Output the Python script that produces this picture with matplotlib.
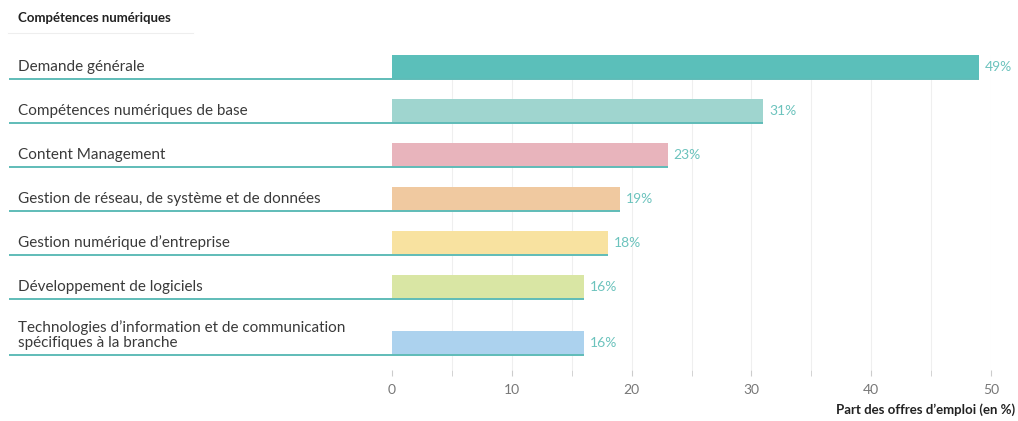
import matplotlib.pyplot as plt
import matplotlib.transforms as mtransforms

categories = [
    "Demande générale",
    "Compétences numériques de base",
    "Content Management",
    "Gestion de réseau, de système et de données",
    "Gestion numérique d’entreprise",
    "Développement de logiciels",
    "Technologies d’information et de communication\nspécifiques à la branche",
]
values = [49, 31, 23, 19, 18, 16, 16]
value_labels = ["49%", "31%", "23%", "19%", "18%", "16%", "16%"]
colors = ["#5bbfba", "#9fd5cf", "#e8b4bc", "#f0c9a0", "#f8e2a0", "#d9e6a4", "#acd2ee"]
xticks = [0, 10, 20, 30, 40, 50]

plt.rcParams['font.family'] = ['Lato', 'DejaVu Sans']

W, H = 1018, 421
fig = plt.figure(figsize=(W / 100, H / 100), dpi=100)
# axes placed in pixel terms: x 392..991, y 45..370
ax = fig.add_axes([392 / W, 1 - 370 / H, (991 - 392) / W, (370 - 45) / H])

# row layout (last row taller for the two-line label)
ypos = [0, 1, 2, 3, 4, 5, 6.27]
bar_h = 0.545
teal = "#5fbcb8"
text_teal = "#6cc3bd"

ax.set_xlim(0, 50)
ax.set_ylim(6.886, -0.5)

ax.vlines(range(5, 51, 5), -0.27, 6.886, color="#efefef", lw=0.8, zorder=0)

ax.barh(ypos, values, height=bar_h, color=colors, zorder=2)

lab = mtransforms.blended_transform_factory(fig.transFigure, ax.transData)
for y, v, c, vl in zip(ypos, values, categories, value_labels):
    bottom = y + bar_h / 2
    # underline from label start to bar end
    ax.plot([-32, v], [bottom, bottom], color=teal, lw=1.4, clip_on=False,
            solid_capstyle="butt", zorder=3)
    ax.text(18 / W, bottom - 0.12, c, transform=lab, ha="left", va="bottom",
            fontsize=11, color="#3a3a3a", linespacing=1.05)
    ax.text(v + 0.5, y, vl, ha="left", va="center", fontsize=10,
            color=text_teal)

for s in ax.spines.values():
    s.set_visible(False)
ax.set_yticks([])
ax.set_xticks(xticks)
ax.set_xticks(range(5, 51, 10), minor=True)
ax.tick_params(axis="x", which="both", length=4, color="#cccccc", pad=6,
               labelsize=10, labelcolor="#777777")

fig.text(18 / W, 1 - 18 / H, "Compétences numériques", fontsize=9.5,
         fontweight="bold", color="#222222", ha="left", va="center")
fig.add_artist(plt.Line2D([8 / W, 193 / W], [1 - 33 / H, 1 - 33 / H],
                          color="#eeeeee", lw=0.8))
fig.text(1015 / W, 1 - 410 / H, "Part des offres d’emploi (en %)",
         fontsize=9.5, fontweight="bold", color="#222222", ha="right",
         va="center")

fig.savefig("out.png", dpi=100, facecolor="white")
